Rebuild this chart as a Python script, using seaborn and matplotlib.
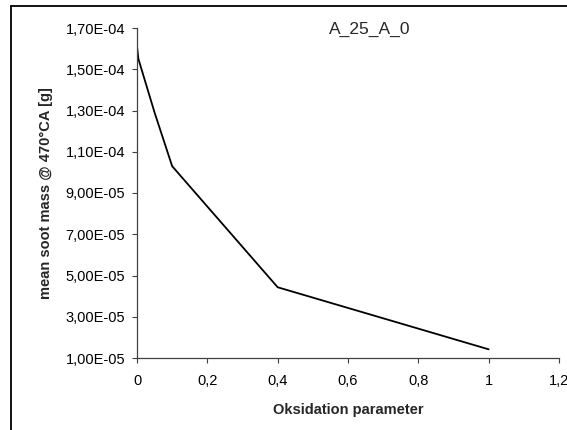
import matplotlib
matplotlib.use("Agg")
import matplotlib.pyplot as plt
from matplotlib.lines import Line2D
import seaborn as sns
import pandas as pd

# ---- data ----
oks_param = [0.0, 0.004, 0.05, 0.1, 0.4, 1.0]
soot_mass = [1.61e-4, 1.55e-4, 1.29e-4, 1.03e-4, 4.43e-5, 1.42e-5]

x_ticks = [0.0, 0.2, 0.4, 0.6, 0.8, 1.0, 1.2]
x_tick_labels = ["0", "0,2", "0,4", "0,6", "0,8", "1", "1,2"]
y_ticks = [1.0e-5, 3.0e-5, 5.0e-5, 7.0e-5, 9.0e-5, 1.1e-4, 1.3e-4, 1.5e-4, 1.7e-4]
y_tick_labels = ["1,00E-05", "3,00E-05", "5,00E-05", "7,00E-05", "9,00E-05",
                 "1,10E-04", "1,30E-04", "1,50E-04", "1,70E-04"]

title_text = "A_25_A_0"
x_label = "Oksidation parameter"
y_label = "mean soot mass @ 470°CA [g]"

df = pd.DataFrame({"x": oks_param, "y": soot_mass})

sns.set_theme(style="white")
plt.rcParams["font.family"] = ["Liberation Sans", "DejaVu Sans"]

W, H = 567, 430
fig = plt.figure(figsize=(W / 100, H / 100), dpi=100)
ax = fig.add_axes([137 / W, 1 - 358 / H, (559 - 137) / W, (358 - 28) / H])

sns.lineplot(data=df, x="x", y="y", ax=ax, color="black", linewidth=1.3,
             sort=False, estimator=None)

ax.set_xlim(0, 1.2)
ax.set_ylim(1.0e-5, 1.7e-4)
ax.set_xticks(x_ticks)
ax.set_xticklabels(x_tick_labels)
ax.set_yticks(y_ticks)
ax.set_yticklabels(y_tick_labels)

for side in ["top", "right"]:
    ax.spines[side].set_visible(False)
for side in ["left", "bottom"]:
    ax.spines[side].set_color("#404040")
    ax.spines[side].set_linewidth(0.9)

ax.tick_params(axis="both", which="major", direction="out", length=3.5,
               width=0.8, color="#404040", labelsize=10.5, labelcolor="black",
               bottom=True, left=True)
ax.tick_params(axis="y", pad=5)
ax.tick_params(axis="x", pad=8)

ax.set_xlabel(x_label, fontsize=10.5, fontweight="bold", labelpad=11)
ax.set_ylabel(y_label, fontsize=10.5, fontweight="bold", labelpad=9)

ax.text(0.552, 0.997, title_text, transform=ax.transAxes, ha="center",
        va="center", fontsize=12.5)

# outer chart-area frame (left and top edges visible)
fig.add_artist(Line2D([11 / W, 11 / W], [1 - 6 / H, 0], transform=fig.transFigure,
                      color="black", linewidth=1.3))
fig.add_artist(Line2D([11 / W, 1], [1 - 6 / H, 1 - 6 / H], transform=fig.transFigure,
                      color="black", linewidth=1.3))

fig.savefig("out.png", dpi=100, facecolor="white")
